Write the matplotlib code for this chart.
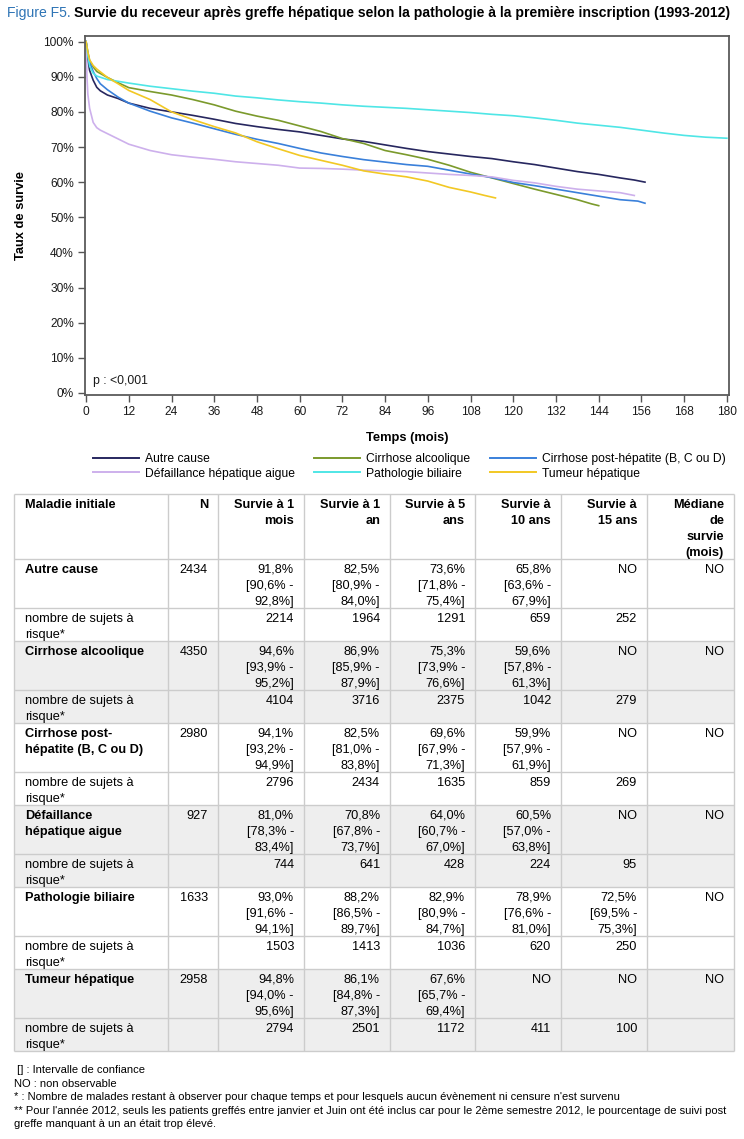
import matplotlib
matplotlib.use('Agg')
import matplotlib.pyplot as plt
from matplotlib import font_manager as fm
from matplotlib.patches import Rectangle

# ---------------- data ----------------
series_names = ["Autre cause", "Cirrhose alcoolique", "Cirrhose post-hépatite (B, C ou D)",
                "Défaillance hépatique aigue", "Pathologie biliaire", "Tumeur hépatique"]
series_colors = ["#27275F", "#7B9A2C", "#3A80DA", "#CDB0EC", "#4FE6E6", "#F2C824"]

t_autre = [0, 0.5, 1, 2, 3, 4, 6, 9, 12, 18, 24, 30, 36, 42, 48, 54, 60, 66, 72, 78, 84, 90,
           96, 102, 108, 114, 120, 126, 132, 138, 144, 150, 154, 157]
s_autre = [100, 95, 91.8, 89.0, 87.0, 86.0, 84.8, 83.8, 82.5, 81.0, 80.0, 79.0, 77.9, 76.7, 75.8,
           75.0, 74.3, 73.3, 72.3, 71.6, 70.6, 69.6, 68.7, 68.0, 67.3, 66.7, 65.8, 65.0, 64.0, 63.0,
           62.2, 61.2, 60.6, 60.0]

t_alcool = [0, 0.5, 1, 2, 3, 6, 9, 12, 18, 24, 30, 36, 42, 48, 54, 60, 66, 72, 78, 84, 90, 96,
            102, 108, 114, 120, 126, 132, 138, 142, 144]
s_alcool = [100, 97, 94.6, 92.8, 91.5, 89.8, 88.3, 86.9, 85.8, 84.8, 83.5, 82.0, 80.2, 78.8, 77.6,
            76.0, 74.4, 72.4, 71.0, 69.0, 67.8, 66.5, 64.8, 62.8, 61.2, 59.6, 58.0, 56.5, 55.0,
            53.8, 53.3]

t_post = [0, 0.5, 1, 2, 3, 4, 6, 9, 12, 18, 24, 30, 36, 42, 48, 54, 60, 66, 72, 78, 84, 90, 96,
          102, 108, 114, 120, 126, 132, 138, 144, 150, 155, 157]
s_post = [100, 96.5, 94.1, 91.5, 89.5, 88.0, 86.3, 84.2, 82.5, 80.2, 78.3, 76.8, 75.2, 73.6, 72.2,
          71.0, 69.6, 68.3, 67.3, 66.4, 65.7, 65.0, 64.5, 63.4, 62.3, 61.3, 59.9, 59.0, 58.0, 57.0,
          56.0, 55.0, 54.6, 54.0]

t_defail = [0, 0.25, 0.5, 1, 2, 3, 4, 6, 9, 12, 18, 24, 30, 36, 42, 48, 54, 60, 66, 72, 78, 84,
            90, 96, 102, 108, 114, 120, 126, 132, 138, 144, 150, 154]
s_defail = [100, 90, 85, 81.0, 77.0, 75.5, 74.8, 73.8, 72.3, 70.8, 69.0, 67.8, 67.1, 66.5, 65.8,
            65.3, 64.8, 64.0, 63.9, 63.7, 63.4, 63.2, 63.0, 62.6, 62.2, 61.9, 61.5, 60.5, 59.8, 58.8,
            58.0, 57.5, 57.0, 56.2]

t_bili = [0, 0.5, 1, 2, 3, 6, 9, 12, 18, 24, 30, 36, 42, 48, 54, 60, 66, 72, 78, 84, 90, 96, 102,
          108, 114, 120, 126, 132, 138, 144, 150, 156, 162, 168, 174, 180]
s_bili = [100, 96, 93.0, 91.0, 90.2, 89.2, 88.7, 88.2, 87.3, 86.6, 85.9, 85.3, 84.5, 84.0, 83.4,
          82.9, 82.5, 82.0, 81.6, 81.3, 81.0, 80.6, 80.2, 79.8, 79.3, 78.9, 78.3, 77.6, 76.8, 76.2,
          75.6, 74.8, 74.0, 73.3, 72.8, 72.5]

t_tumeur = [0, 0.5, 1, 2, 3, 6, 9, 12, 18, 24, 30, 36, 42, 48, 54, 60, 66, 72, 78, 84, 90, 96,
            102, 108, 112, 115]
s_tumeur = [100, 97, 94.8, 93.2, 92.2, 89.8, 88.0, 86.1, 83.5, 80.0, 77.8, 75.8, 74.0, 71.5, 69.5,
            67.6, 66.2, 64.8, 63.2, 62.3, 61.5, 60.3, 58.5, 57.2, 56.2, 55.5]

x_ticks = list(range(0, 181, 12))
y_ticks = list(range(0, 101, 10))

# table data
header = ["Maladie initiale", "N", "Survie à 1\nmois", "Survie à 1\nan", "Survie à 5\nans",
          "Survie à\n10 ans", "Survie à\n15 ans", "Médiane\nde\nsurvie\n(mois)"]
maladies = ["Autre cause", "Cirrhose alcoolique", "Cirrhose post-\nhépatite (B, C ou D)",
            "Défaillance\nhépatique aigue", "Pathologie biliaire", "Tumeur hépatique"]
n_patients = [2434, 4350, 2980, 927, 1633, 2958]
# (estimate, lower, upper) or None = NO
surv_1m = [(91.8, 90.6, 92.8), (94.6, 93.9, 95.2), (94.1, 93.2, 94.9), (81.0, 78.3, 83.4),
           (93.0, 91.6, 94.1), (94.8, 94.0, 95.6)]
surv_1a = [(82.5, 80.9, 84.0), (86.9, 85.9, 87.9), (82.5, 81.0, 83.8), (70.8, 67.8, 73.7),
           (88.2, 86.5, 89.7), (86.1, 84.8, 87.3)]
surv_5a = [(73.6, 71.8, 75.4), (75.3, 73.9, 76.6), (69.6, 67.9, 71.3), (64.0, 60.7, 67.0),
           (82.9, 80.9, 84.7), (67.6, 65.7, 69.4)]
surv_10a = [(65.8, 63.6, 67.9), (59.6, 57.8, 61.3), (59.9, 57.9, 61.9), (60.5, 57.0, 63.8),
            (78.9, 76.6, 81.0), None]
surv_15a = [None, None, None, None, (72.5, 69.5, 75.3), None]
mediane = [None, None, None, None, None, None]
risk_1m = [2214, 4104, 2796, 744, 1503, 2794]
risk_1a = [1964, 3716, 2434, 641, 1413, 2501]
risk_5a = [1291, 2375, 1635, 428, 1036, 1172]
risk_10a = [659, 1042, 859, 224, 620, 411]
risk_15a = [252, 279, 269, 95, 250, 100]
risk_label = "nombre de sujets à\nrisque*"

title_prefix = "Figure F5."
title_main = "Survie du receveur après greffe hépatique selon la pathologie à la première inscription (1993-2012)"

footnotes = [" [] : Intervalle de confiance",
             "NO : non observable",
             "* : Nombre de malades restant à observer pour chaque temps et pour lesquels aucun évènement ni censure n'est survenu",
             "** Pour l'année 2012, seuls les patients greffés entre janvier et Juin ont été inclus car pour le 2ème semestre 2012, le pourcentage de suivi post",
             "greffe manquant à un an était trop élevé."]

# ---------------- fonts ----------------
avail = {f.name for f in fm.fontManager.ttflist}
BASE = 'Liberation Sans' if 'Liberation Sans' in avail else 'DejaVu Sans'
NARROW = 'Liberation Sans Narrow' if 'Liberation Sans Narrow' in avail else BASE
plt.rcParams['font.family'] = [BASE, 'DejaVu Sans']

W, H = 744, 1139
fig = plt.figure(figsize=(W / 100, H / 100), dpi=100)
fig.patch.set_facecolor('white')


def fx(px):
    return px / W


def fy(py):
    return 1 - py / H


# overlay axes in pixel coordinates (for table / text)
ov = fig.add_axes([0, 0, 1, 1], zorder=0)
ov.set_xlim(0, W)
ov.set_ylim(H, 0)
ov.axis('off')

# ---------------- chart ----------------
ax = fig.add_axes([fx(85), fy(395), fx(729) - fx(85), fy(36) - fy(395)], zorder=2)
curves = [(t_autre, s_autre), (t_alcool, s_alcool), (t_post, s_post),
          (t_defail, s_defail), (t_bili, s_bili), (t_tumeur, s_tumeur)]
lines = []
for (t, s), name, col in zip(curves, series_names, series_colors):
    ln, = ax.plot(t, s, color=col, lw=1.2, label=name, solid_joinstyle='miter')
    lines.append(ln)

ax.set_xlim(-0.3, 180.6)
ax.set_ylim(-0.6, 101.6)
ax.set_xticks(x_ticks)
ax.set_xticklabels([str(v) for v in x_ticks])
ax.set_yticks(y_ticks)
ax.set_yticklabels([f"{v}%" for v in y_ticks])
ax.tick_params(axis='both', direction='out', length=5, width=1, color='#555555',
               labelsize=8.6, labelcolor='#1a1a1a', pad=3)
for sp in ax.spines.values():
    sp.set_color('#5a5a5a')
    sp.set_linewidth(1.3)
ax.set_xlabel("Temps (mois)", fontsize=9.3, fontweight='bold', labelpad=10, color='black')
ax.set_ylabel("Taux de survie", fontsize=9.3, fontweight='bold', labelpad=12, color='black')
ax.text(2, 2.5, "p : <0,001", fontsize=8.8, color='#1a1a1a', ha='left', va='baseline')

# legend (row-wise order)
order = [0, 3, 1, 4, 2, 5]
leg = ax.legend([lines[i] for i in order], [series_names[i] for i in order],
                ncol=3, loc='upper left', bbox_to_anchor=(fx(93), fy(453)),
                bbox_transform=fig.transFigure, frameon=False, borderpad=0,
                handlelength=3.8, handletextpad=0.5, columnspacing=1.6,
                labelspacing=0.22, borderaxespad=0,
                prop={'family': [NARROW, BASE], 'size': 8.7})
for lh in leg.get_lines():
    lh.set_linewidth(1.4)

# ---------------- title (font size fitted to the reference width) ----------------
fs_title = 10.6
for _ in range(3):
    for tx in list(ov.texts):
        tx.remove()
    t1 = ov.text(7, 13, title_prefix, fontsize=fs_title, color='#2E74B5',
                 family=[NARROW, BASE], ha='left', va='center')
    fig.canvas.draw()
    bb = t1.get_window_extent()
    t2 = ov.text(bb.x1 + 0.35 * fs_title, 13, title_main, fontsize=fs_title, fontweight='bold',
                 color='black', family=[NARROW, BASE], ha='left', va='center')
    fig.canvas.draw()
    x1 = t2.get_window_extent().x1
    fs_title = fs_title * (736 - 7) / (x1 - 7)

# ---------------- table ----------------
col_edges = [14, 168, 218, 304, 390, 475, 561, 647, 734]
row_edges = [494, 559, 608, 641, 690, 723, 772, 805, 854, 887, 936, 969, 1018, 1051]
shade = '#eeeeee'
grid = '#cccccc'
FS = 9.2
PADX = 10
BASE0 = 14
LSTEP = 16


def fmt_pct(v):
    return f"{v:.1f}".replace('.', ',') + '%'


def fmt_surv(v):
    if v is None:
        return "NO"
    e, lo, hi = v
    return f"{fmt_pct(e)}\n[{fmt_pct(lo)} -\n{fmt_pct(hi)}]"


for g in range(6):
    if g % 2 == 1:
        y0 = row_edges[1 + 2 * g]
        y1 = row_edges[3 + 2 * g]
        ov.add_patch(Rectangle((col_edges[0], y0), col_edges[-1] - col_edges[0], y1 - y0,
                               facecolor=shade, edgecolor='none', zorder=1))

for y in row_edges:
    ov.plot([col_edges[0], col_edges[-1]], [y, y], color=grid, lw=1.0, zorder=2,
            solid_capstyle='butt')
for x in col_edges:
    ov.plot([x, x], [row_edges[0], row_edges[-1]], color=grid, lw=1.0, zorder=2,
            solid_capstyle='butt')


def cell(ci, ytop, text, bold=False):
    parts = text.split('\n')
    for k, p in enumerate(parts):
        yb = ytop + BASE0 + k * LSTEP
        if ci == 0:
            ov.text(col_edges[0] + 11, yb, p, ha='left', va='baseline', fontsize=FS,
                    fontweight='bold' if bold else 'normal', color='black', zorder=3)
        else:
            ov.text(col_edges[ci + 1] - PADX, yb, p, ha='right', va='baseline', fontsize=FS,
                    fontweight='bold' if bold else 'normal', color='black', zorder=3)


for ci, h in enumerate(header):
    cell(ci, row_edges[0], h, bold=True)

for g in range(6):
    ytop = row_edges[1 + 2 * g]
    cell(0, ytop, maladies[g], bold=True)
    cell(1, ytop, str(n_patients[g]))
    vals = [surv_1m[g], surv_1a[g], surv_5a[g], surv_10a[g], surv_15a[g], mediane[g]]
    for k, v in enumerate(vals):
        cell(2 + k, ytop, fmt_surv(v))
    ytop2 = row_edges[2 + 2 * g]
    cell(0, ytop2, risk_label)
    risks = [risk_1m[g], risk_1a[g], risk_5a[g], risk_10a[g], risk_15a[g]]
    for k, r in enumerate(risks):
        cell(2 + k, ytop2, str(r))

# ---------------- footnotes ----------------
for i, fn in enumerate(footnotes):
    ov.text(14, 1073 + i * 13.6, fn, fontsize=8.0, family=[NARROW, BASE], color='black',
            ha='left', va='baseline')

fig.savefig('out.png', dpi=100, facecolor='white')
